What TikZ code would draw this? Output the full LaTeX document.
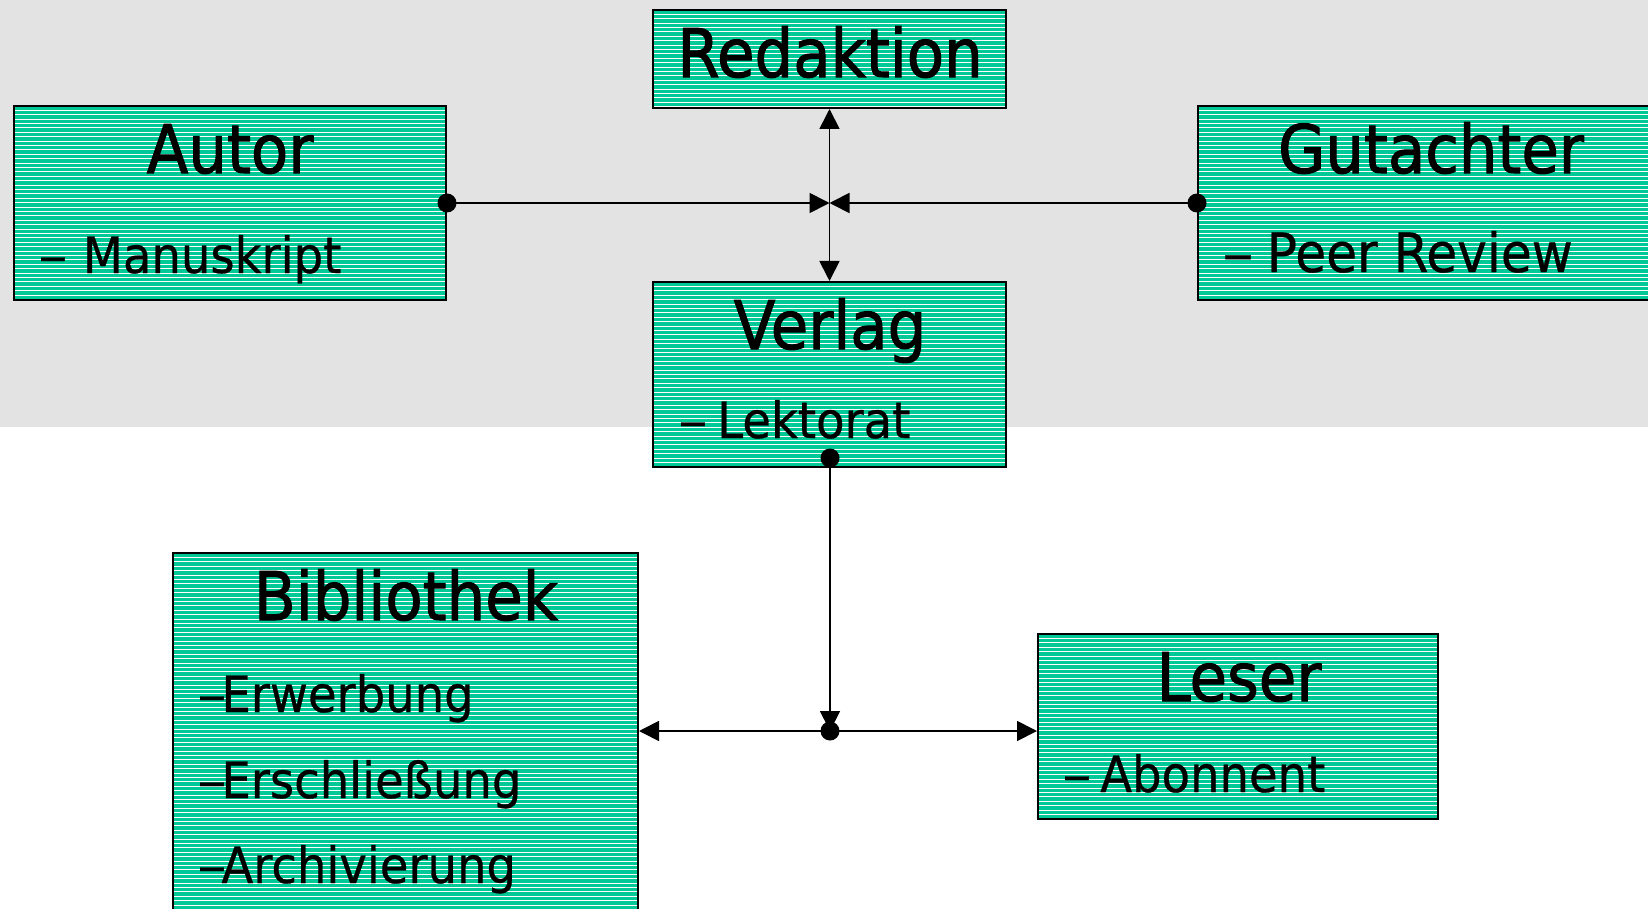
\documentclass[tikz,border=0pt]{standalone}
\usepackage{fontspec}
\setmainfont{DejaVu Sans}[FakeStretch=0.93]
\newfontfamily\titlefont{DejaVu Sans}[FakeStretch=0.91, FakeBold=1.5]
\newfontfamily\itemfont{DejaVu Sans}[FakeStretch=0.93, FakeBold=0.6]
\usetikzlibrary{arrows.meta,fit}
\definecolor{boxgreen}{RGB}{0,200,150}
\definecolor{bggray}{RGB}{227,227,227}
\newcommand\idash{\scalebox{1.25}[1]{–}}
\tikzset{
  box/.style={draw=black, line width=1pt, inner sep=0pt, rectangle, fill=boxgreen,
    path picture={
      \foreach \k in {1,...,90}
        \draw[white, line width=0.5pt]
          ([yshift=-\k*2.2pt]path picture bounding box.north west) --
          ([yshift=-\k*2.2pt]path picture bounding box.north east);
    }},
  title/.style={anchor=base, inner sep=0pt, font=\titlefont\fontsize{33.5}{40}\selectfont},
  item/.style={anchor=base west, inner sep=0pt, font=\itemfont\fontsize{25}{30}\selectfont},
  bigitem/.style={anchor=base west, inner sep=0pt, font=\itemfont\fontsize{27}{32}\selectfont},
  conn/.style={line width=0.9pt, draw=black},
  tip/.style={-{Triangle[length=10pt,width=10pt]}},
  dot/.style={fill=black}
}
\begin{document}
\begin{tikzpicture}[x=0.5pt,y=-0.5pt]
\clip (0,0) rectangle (1648,909);
\fill[bggray] (0,0) rectangle (1648,427);
% boxes
\node[box, fit={(653,10) (1006,108)}] (redaktion) {};
\node[box, fit={(14,106) (446,300)}] (autor) {};
\node[box, fit={(1198,106) (1664,300)}] (gutachter) {};
\node[box, fit={(653,282) (1006,467)}] (verlag) {};
\node[box, fit={(173,553) (638,925)}] (biblio) {};
\node[box, fit={(1038,634) (1438,819)}] (leser) {};
% texts
\node[title] (redaktionT) at (830,77) {Redaktion};
\node[title] (autorT) at (230,173) {Autor};
\node[item] (autorI) at (38,273) {\idash{} \hspace{0.3pt}Manuskript};
\node[title] (gutachterT) at (1431,173) {Gutachter};
\node[bigitem] (gutachterI) at (1222,272) {\idash{} \hspace{-1.5pt}Peer Review};
\node[title] (verlagT) at (830,349) {Verlag};
\node[item] (verlagI) at (678,438) {\idash{} \hspace{-2.5pt}Lektorat};
\node[title] (biblioT) at (406,620) {Bibliothek};
\node[item] (biblioI1) at (197,712) {\idash\hspace{-2.5pt}Erwerbung};
\node[item] (biblioI2) at (197,798) {\idash\hspace{-2.5pt}Erschließung};
\node[item] (biblioI3) at (197,883) {\idash\hspace{-2.5pt}Archivierung};
\node[title] (leserT) at (1239,701) {Leser};
\node[item] (leserI) at (1062,792) {\idash{} \hspace{-3pt}Abonnent};
% coordinates
\coordinate (hub) at (redaktion.south |- autor.east);
\coordinate (vdot) at (830,458);
\coordinate (junc) at (830,731);
% connectors
\draw[conn, tip] (autor.east) -- (hub);
\draw[conn, tip] (gutachter.west) -- (hub);
\draw[conn, {Triangle[length=10pt,width=10pt]}-{Triangle[length=10pt,width=10pt]}] (redaktion.south) -- (verlag.north);
\draw[conn, tip] (vdot) -- (junc);
\draw[conn, tip] (junc) -- (junc -| biblio.east);
\draw[conn, tip] (junc) -- (junc -| leser.west);
% dots
\fill[dot] (autor.east) circle (9.5);
\fill[dot] (gutachter.west) circle (9.5);
\fill[dot] (vdot) circle (9.5);
\fill[dot] (junc) circle (9.5);
\end{tikzpicture}
\end{document}
